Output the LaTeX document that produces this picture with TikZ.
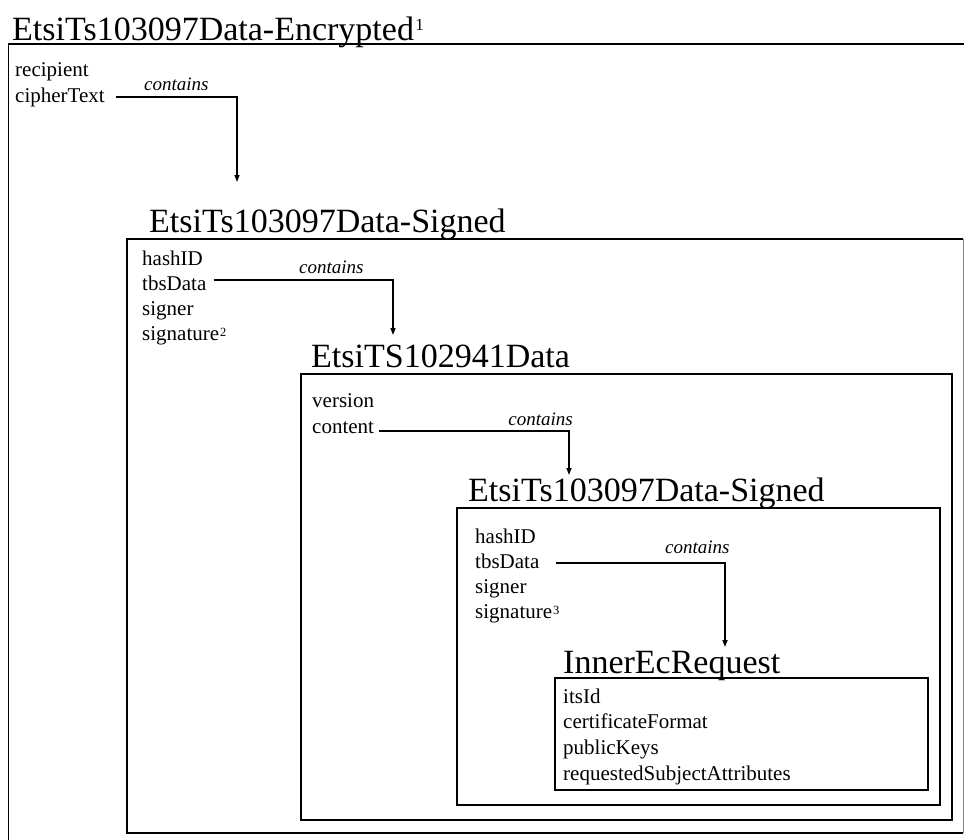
\documentclass[tikz,border=0pt]{standalone}
\usepackage{fontspec}
\setmainfont{Liberation Serif}
\usetikzlibrary{calc,arrows.meta}
\begin{document}
\begin{tikzpicture}[x=1pt,y=-1pt,
  title/.style={anchor=base west,inner sep=0pt,font=\fontsize{34}{40}\selectfont},
  item/.style={anchor=base west,inner sep=0pt,font=\fontsize{21}{25}\selectfont},
  supbig/.style={anchor=base west,inner sep=0pt,font=\fontsize{17}{17}\selectfont},
  supsmall/.style={anchor=base west,inner sep=0pt,font=\fontsize{12.5}{13}\selectfont},
  lbl/.style={inner sep=0pt,font=\fontsize{19}{22}\selectfont\itshape},
  frame/.style={draw=black,line width=1.8pt},
  arr/.style={draw=black,line width=1.5pt,-{Triangle[length=7pt,width=5pt]}}]
\useasboundingbox (0,0) rectangle (964,839);
\clip (0,0) rectangle (964,839);
\fill[white] (0,0) rectangle (964,839);
% frames
\draw[frame] (8.5,870) -- (8.5,44) -- (1000,44);
\draw[frame] (963,239) -- (127,239) -- (127,833) -- (963,833);
\draw[gray,line width=0.8pt] (963,239) -- (963,833);
\draw[frame] (301,374) rectangle (952,820);
\draw[frame] (457,508) rectangle (940,805);
\draw[frame] (555,678) rectangle (928,790);
% titles
\node[title] (t1) at (12,40) {EtsiTs103097Data-Encrypted};
\node[supbig] (s1) at ($(t1.base east)+(1,-10)$) {1};
\node[title] (t2) at (149,232) {EtsiTs103097Data-Signed};
\node[title] (t3) at (311,367) {EtsiTS102941Data};
\node[title] (t4) at (468,501) {EtsiTs103097Data-Signed};
\node[title] (t5) at (563,673) {InnerEcRequest};
% items
\node[item] (recipient) at (15,76) {recipient};
\node[item] (cipher) at (15,102) {cipherText};
\node[item] (hashA) at (142,265) {hashID};
\node[item] (tbsA) at (142,290) {tbsData};
\node[item] (signerA) at (142,315) {signer};
\node[item] (sigA) at (142,340) {signature};
\node[supsmall] (s2) at ($(sigA.base east)+(0.5,-4)$) {2};
\node[item] (version) at (312,407) {version};
\node[item] (content) at (312,433) {content};
\node[item] (hashB) at (475,543) {hashID};
\node[item] (tbsB) at (475,568) {tbsData};
\node[item] (signerB) at (475,593) {signer};
\node[item] (sigB) at (475,618) {signature};
\node[supsmall] (s3) at ($(sigB.base east)+(0.5,-4)$) {3};
\node[item] (itsid) at (563,703) {itsId};
\node[item] (certfmt) at (563,728) {certificateFormat};
\node[item] (pubkeys) at (563,754) {publicKeys};
\node[item] (reqattr) at (563,780) {requestedSubjectAttributes};
% arrow ends
\coordinate (e1) at (237,182);
\coordinate (e2) at (393,335);
\coordinate (e3) at (569,475);
\coordinate (e4) at (725,647);
% connectors
\draw[arr] ($(cipher.base east)+(11,-5)$) -| (e1);
\draw[arr] ($(tbsA.base east)+(7,-10)$) -| (e2);
\draw[arr] ($(content.base east)+(5,-2)$) -| (e3);
\draw[arr] ($(tbsB.base east)+(16,-5)$) -| (e4);
% labels
\node[lbl,anchor=base west] (c1) at (144,90) {contains};
\node[lbl,anchor=base west] (c2) at (299,273) {contains};
\node[lbl,anchor=base east] (c3) at (573,425) {contains};
\node[lbl,anchor=base west] (c4) at (665,553) {contains};
\end{tikzpicture}
\end{document}
